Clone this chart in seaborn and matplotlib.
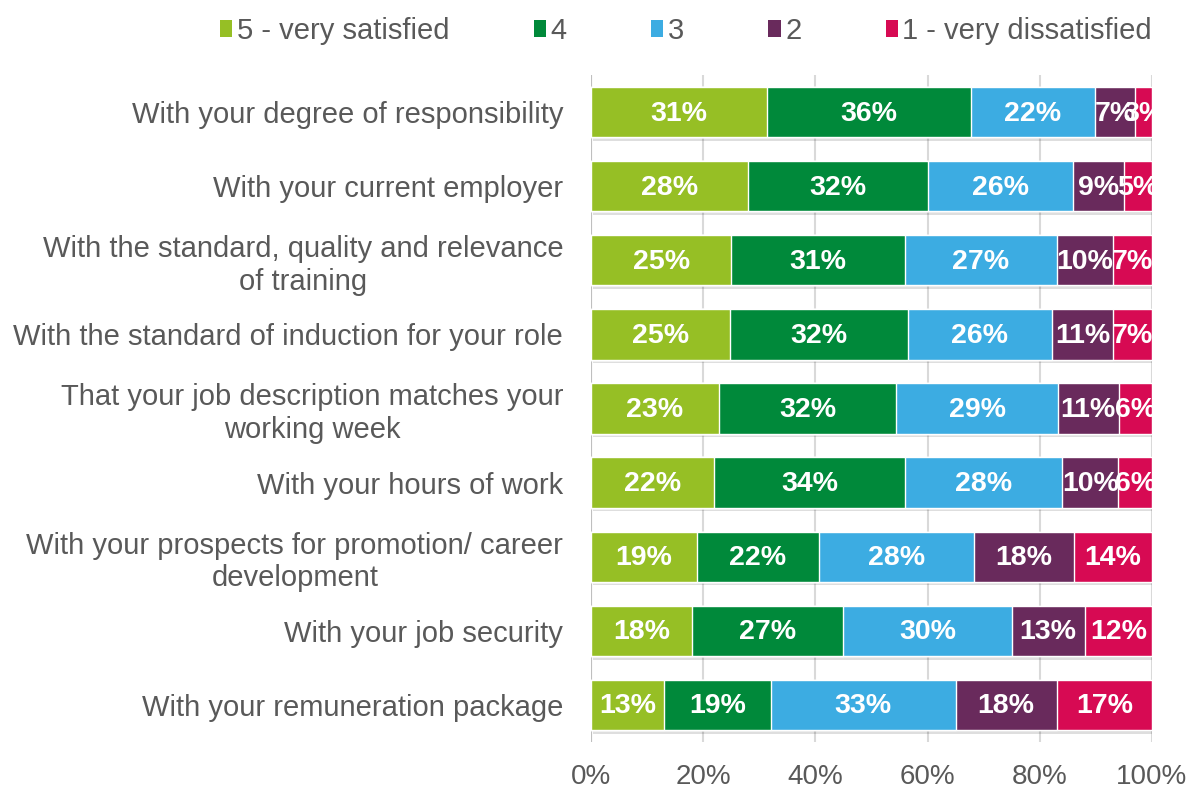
import numpy as np
import pandas as pd
import seaborn as sns
from matplotlib import pyplot as plt
from matplotlib.patches import Patch
import matplotlib.patheffects as pe

# preguntas y porcentajes por nivel de satisfacción
questions = [
    'With your degree of responsibility',
    'With your current employer',
    'With the standard, quality and relevance\nof training',
    'With the standard of induction for your role',
    'That your job description matches your\nworking week',
    'With your hours of work',
    'With your prospects for promotion/ career\ndevelopment',
    'With your job security',
    'With your remuneration package',
]
levels = ['5 - very satisfied', '4', '3', '2', '1 - very dissatisfied']
very_satisfied = [31, 28, 25, 25, 23, 22, 19, 18, 13]
satisfied = [36, 32, 31, 32, 32, 34, 22, 27, 19]
neutral = [22, 26, 27, 26, 29, 28, 28, 30, 33]
dissatisfied = [7, 9, 10, 11, 11, 10, 18, 13, 18]
very_dissatisfied = [3, 5, 7, 7, 6, 6, 14, 12, 17]
colors = ['#96BF25', '#00893A', '#3CACE2', '#692A5C', '#D70A53']

df = pd.DataFrame({'question': questions,
                   levels[0]: very_satisfied,
                   levels[1]: satisfied,
                   levels[2]: neutral,
                   levels[3]: dissatisfied,
                   levels[4]: very_dissatisfied})

# se normaliza cada fila al 100%
vals = df[levels].astype(float)
share = vals.div(vals.sum(axis=1), axis=0) * 100
cum = share.cumsum(axis=1)

sns.set_style('white')
plt.rcParams['font.family'] = ['Liberation Sans', 'DejaVu Sans']

fig = plt.figure(figsize=(11.97, 7.89), dpi=100)
ax = fig.add_axes([591 / 1197, 1 - 742 / 789, (1152 - 591) / 1197, (742 - 75) / 789])

# barras apiladas: se dibujan los acumulados de mayor a menor
for i in range(len(levels) - 1, -1, -1):
    sns.barplot(x=cum[levels[i]], y=df['question'], orient='h', color=colors[i],
                width=0.68, saturation=1, ax=ax, zorder=3)

bars_full = ax.patches[:len(questions)]
for p in bars_full:
    p.set_path_effects([pe.SimplePatchShadow(offset=(1.5, -2.5), shadow_rgbFace='#000000', alpha=0.13),
                        pe.Normal()])

# etiquetas de cada segmento
for j in range(len(questions)):
    left = 0
    for i, lev in enumerate(levels):
        w = share.loc[j, lev]
        ax.text(left + w / 2, j + 0.02, f'{int(vals.loc[j, lev])}%', ha='center', va='center',
                color='white', fontsize=20.5, fontweight='bold', zorder=5)
        left += w

ax.set_xlim(0, 100)
ax.set_ylim(len(questions) - 0.5, -0.5)
ax.set_xticks(np.arange(0, 101, 20))
ax.set_xticklabels([f'{t}%' for t in range(0, 101, 20)], fontsize=20, color='#595959')
ax.tick_params(axis='x', length=0, pad=16)
ax.tick_params(axis='y', length=0, pad=20, labelsize=21, labelcolor='#595959')
for lab in ax.get_yticklabels():
    lab.set_multialignment('center')
ax.set_xlabel('')
ax.set_ylabel('')
for s in ax.spines.values():
    s.set_visible(False)
ax.xaxis.grid(True, color='#D9D9D9', linewidth=1.5)
ax.axvline(0, color='#BFBFBF', linewidth=1.5, zorder=2)
ax.set_axisbelow(True)

handles = [Patch(facecolor=c, edgecolor='none') for c in colors]
fig.legend(handles, levels, loc='upper center', bbox_to_anchor=(686 / 1197, 1.012), ncol=5,
           frameon=False, fontsize=21, handlelength=0.42, handleheight=0.55,
           handletextpad=0.15, columnspacing=2.9, labelcolor='#595959')

plt.savefig('out.png', dpi=100)
